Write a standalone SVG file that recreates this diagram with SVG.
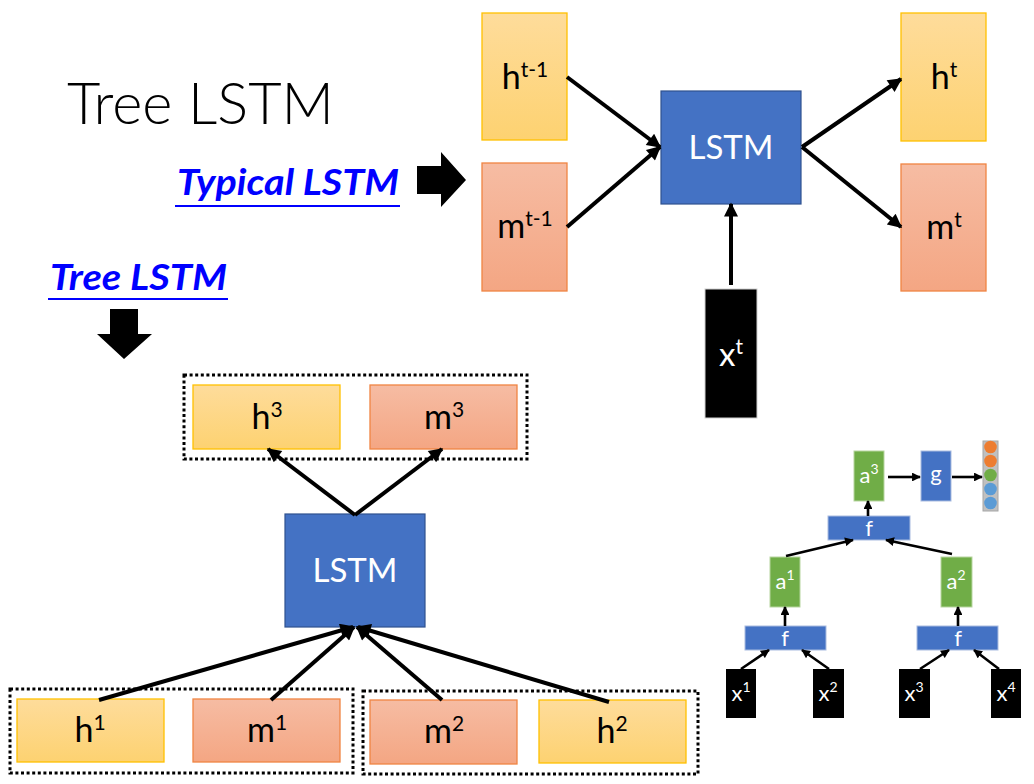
<svg xmlns="http://www.w3.org/2000/svg" width="1034" height="784" viewBox="0 0 1034 784">
<defs>
<linearGradient id="gh" x1="0" y1="0" x2="0" y2="1"><stop offset="0" stop-color="#FEDC9B"/><stop offset="1" stop-color="#FDD271"/></linearGradient>
<linearGradient id="gm" x1="0" y1="0" x2="0" y2="1"><stop offset="0" stop-color="#F6BCA3"/><stop offset="1" stop-color="#F4A683"/></linearGradient>
<marker id="ah" viewBox="0 0 10 10" refX="9" refY="5" markerWidth="4" markerHeight="3.5" orient="auto" markerUnits="strokeWidth"><path d="M0,0 L10,5 L0,10 z" fill="#000"/></marker>
<marker id="as" viewBox="0 0 10 10" refX="9" refY="5" markerWidth="3.6" markerHeight="3.4" orient="auto" markerUnits="strokeWidth"><path d="M0,0 L10,5 L0,10 z" fill="#000"/></marker>
<style>
.h{fill:url(#gh);stroke:#FFC000;stroke-width:1.3}
.m{fill:url(#gm);stroke:#F08443;stroke-width:1.3}
.lstm{fill:#4472C4;stroke:#2F528F;stroke-width:1.2}
.blk{fill:#000}
.grn{fill:#70AD47;stroke:#B7D5A0;stroke-width:1}
.blu{fill:#4472C4;stroke:#A9BCE0;stroke-width:1}
.lbl{font-family:Lato,"Open Sans",sans-serif;font-size:34px;fill:#000;text-anchor:middle}
.wl{font-family:Lato,"Open Sans",sans-serif;font-size:33px;fill:#fff;text-anchor:middle}
.sl{font-family:Lato,"Open Sans",sans-serif;font-size:22px;fill:#fff;text-anchor:middle}
.dot{fill:none;stroke:#000;stroke-width:3;stroke-dasharray:3 2.6}
.big{stroke:#000;stroke-width:4;fill:none;marker-end:url(#ah)}
.sm{stroke:#000;stroke-width:2.6;fill:none;marker-end:url(#as)}
.link{font-family:Lato,"Open Sans",sans-serif;font-weight:bold;font-style:italic;font-size:37px;fill:#0000FF}
</style>
</defs>
<rect width="1034" height="784" fill="#fff"/>

<g id="title"><text x="67" y="124" font-family="Lato,'Open Sans',sans-serif" font-weight="300" font-size="58" fill="#000" textLength="267" lengthAdjust="spacingAndGlyphs">Tree LSTM</text></g>
<g id="typical-label"><text class="link" x="177" y="195" textLength="222" lengthAdjust="spacingAndGlyphs">Typical LSTM</text><line x1="175" y1="206" x2="400" y2="206" stroke="#0000FF" stroke-width="2"/></g>
<g id="tree-label"><text class="link" x="50" y="290" textLength="177" lengthAdjust="spacingAndGlyphs">Tree LSTM</text><line x1="48" y1="299" x2="228" y2="299" stroke="#0000FF" stroke-width="2"/></g>
<g id="arrow-right"><polygon points="417,166 441,166 441,152 466,180 441,207 441,194 417,194" fill="#000"/></g>
<g id="arrow-down"><polygon points="110,309 138,309 138,334 152,334 124,359 97,334 110,334" fill="#000"/></g>

<!-- Typical LSTM -->
<g id="ht1"><rect class="h" x="482" y="13" width="85" height="127"/><text class="lbl" x="525" y="89">h<tspan font-size="21" dy="-12">t-1</tspan></text></g>
<g id="mt1"><rect class="m" x="482" y="163" width="85" height="128"/><text class="lbl" x="525" y="238">m<tspan font-size="21" dy="-12">t-1</tspan></text></g>
<g id="lstm1"><rect class="lstm" x="661" y="91" width="140" height="113"/><text class="wl" x="731" y="159">LSTM</text></g>
<g id="ht"><rect class="h" x="901" y="13" width="85" height="128"/><text class="lbl" x="944" y="89">h<tspan font-size="21" dy="-12">t</tspan></text></g>
<g id="mt"><rect class="m" x="901" y="164" width="85" height="127"/><text class="lbl" x="944" y="239">m<tspan font-size="21" dy="-12">t</tspan></text></g>
<g id="xt"><rect class="blk" x="705" y="289" width="52" height="129" stroke="#d0d0d0" stroke-width="1"/><text class="wl" x="731" y="366">x<tspan font-size="21" dy="-12">t</tspan></text></g>

<!-- Tree LSTM -->
<g id="box-top"><rect class="dot" x="184" y="375" width="343" height="84"/></g>
<g id="h3"><rect class="h" x="193" y="385" width="147" height="64"/><text class="lbl" x="267" y="429">h<tspan font-size="21" dy="-12">3</tspan></text></g>
<g id="m3"><rect class="m" x="370" y="385" width="147" height="64"/><text class="lbl" x="444" y="429">m<tspan font-size="21" dy="-12">3</tspan></text></g>
<g id="lstm2"><rect class="lstm" x="285" y="514" width="140" height="113"/><text class="wl" x="355" y="582">LSTM</text></g>
<g id="box-left"><rect class="dot" x="10" y="689" width="343" height="84"/></g>
<g id="h1"><rect class="h" x="17" y="699" width="147" height="63"/><text class="lbl" x="90" y="742">h<tspan font-size="21" dy="-12">1</tspan></text></g>
<g id="m1"><rect class="m" x="193" y="699" width="147" height="63"/><text class="lbl" x="267" y="742">m<tspan font-size="21" dy="-12">1</tspan></text></g>
<g id="box-right"><rect class="dot" x="363" y="691" width="335" height="83"/></g>
<g id="m2"><rect class="m" x="370" y="700" width="147" height="64"/><text class="lbl" x="444" y="743">m<tspan font-size="21" dy="-12">2</tspan></text></g>
<g id="h2"><rect class="h" x="539" y="700" width="147" height="63"/><text class="lbl" x="612" y="743">h<tspan font-size="21" dy="-12">2</tspan></text></g>

<!-- small tree -->
<g id="a3"><rect class="grn" x="854" y="451" width="30" height="50"/><text class="sl" x="869" y="483">a<tspan font-size="14" dy="-9">3</tspan></text></g>
<g id="g"><rect class="blu" x="921" y="451" width="30" height="50"/><text class="sl" x="936" y="481">g</text></g>
<g id="vec"><rect x="983" y="441" width="15" height="70" fill="#C0C0C0" stroke="#A6A6A6" stroke-width="1"/><circle cx="990.5" cy="447" r="6.3" fill="#ED7D31"/><circle cx="990.5" cy="461" r="6.3" fill="#ED7D31"/><circle cx="990.5" cy="475" r="6.3" fill="#70AD47"/><circle cx="990.5" cy="489" r="6.3" fill="#5B9BD5"/><circle cx="990.5" cy="503" r="6.3" fill="#5B9BD5"/></g>
<g id="f-top"><rect class="blu" x="828" y="516" width="82" height="24"/><text class="sl" x="869" y="536">f</text></g>
<g id="a1"><rect class="grn" x="770" y="557" width="30" height="50"/><text class="sl" x="785" y="589">a<tspan font-size="14" dy="-9">1</tspan></text></g>
<g id="a2"><rect class="grn" x="941" y="557" width="31" height="50"/><text class="sl" x="956" y="589">a<tspan font-size="14" dy="-9">2</tspan></text></g>
<g id="f-left"><rect class="blu" x="745" y="626" width="81" height="24"/><text class="sl" x="785" y="646">f</text></g>
<g id="f-right"><rect class="blu" x="917" y="626" width="81" height="24"/><text class="sl" x="958" y="646">f</text></g>
<g id="x1"><rect class="blk" x="726" y="669" width="30" height="49"/><text class="sl" x="741" y="701">x<tspan font-size="14" dy="-9">1</tspan></text></g>
<g id="x2"><rect class="blk" x="813" y="669" width="31" height="49"/><text class="sl" x="828" y="701">x<tspan font-size="14" dy="-9">2</tspan></text></g>
<g id="x3"><rect class="blk" x="899" y="669" width="31" height="49"/><text class="sl" x="914" y="701">x<tspan font-size="14" dy="-9">3</tspan></text></g>
<g id="x4"><rect class="blk" x="991" y="669" width="30" height="49"/><text class="sl" x="1006" y="701">x<tspan font-size="14" dy="-9">4</tspan></text></g>

<g id="connectors">
<line class="big" x1="567" y1="77" x2="660" y2="147"/>
<line class="big" x1="567" y1="227" x2="660" y2="147"/>
<line class="big" x1="802" y1="147" x2="901" y2="79"/>
<line class="big" x1="802" y1="147" x2="901" y2="227"/>
<line class="big" x1="731" y1="285" x2="731" y2="204"/>
<line class="big" x1="355" y1="515" x2="268" y2="449"/>
<line class="big" x1="355" y1="515" x2="442" y2="449"/>
<line class="big" x1="99" y1="700" x2="353" y2="627"/>
<line class="big" x1="271" y1="700" x2="354" y2="627"/>
<line class="big" x1="442" y1="700" x2="357" y2="627"/>
<line class="big" x1="609" y1="702" x2="358" y2="627"/>
<line class="sm" x1="888" y1="477" x2="920" y2="477"/>
<line class="sm" x1="952" y1="477" x2="982" y2="477"/>
<line class="sm" x1="868" y1="516" x2="868" y2="501"/>
<line class="sm" x1="786" y1="556" x2="853" y2="540"/>
<line class="sm" x1="952" y1="554" x2="886" y2="540"/>
<line class="sm" x1="785" y1="626" x2="785" y2="607"/>
<line class="sm" x1="958" y1="626" x2="958" y2="607"/>
<line class="sm" x1="741" y1="669" x2="769" y2="650"/>
<line class="sm" x1="829" y1="669" x2="802" y2="650"/>
<line class="sm" x1="920" y1="669" x2="949" y2="650"/>
<line class="sm" x1="999" y1="669" x2="974" y2="650"/>
</g>
</svg>
